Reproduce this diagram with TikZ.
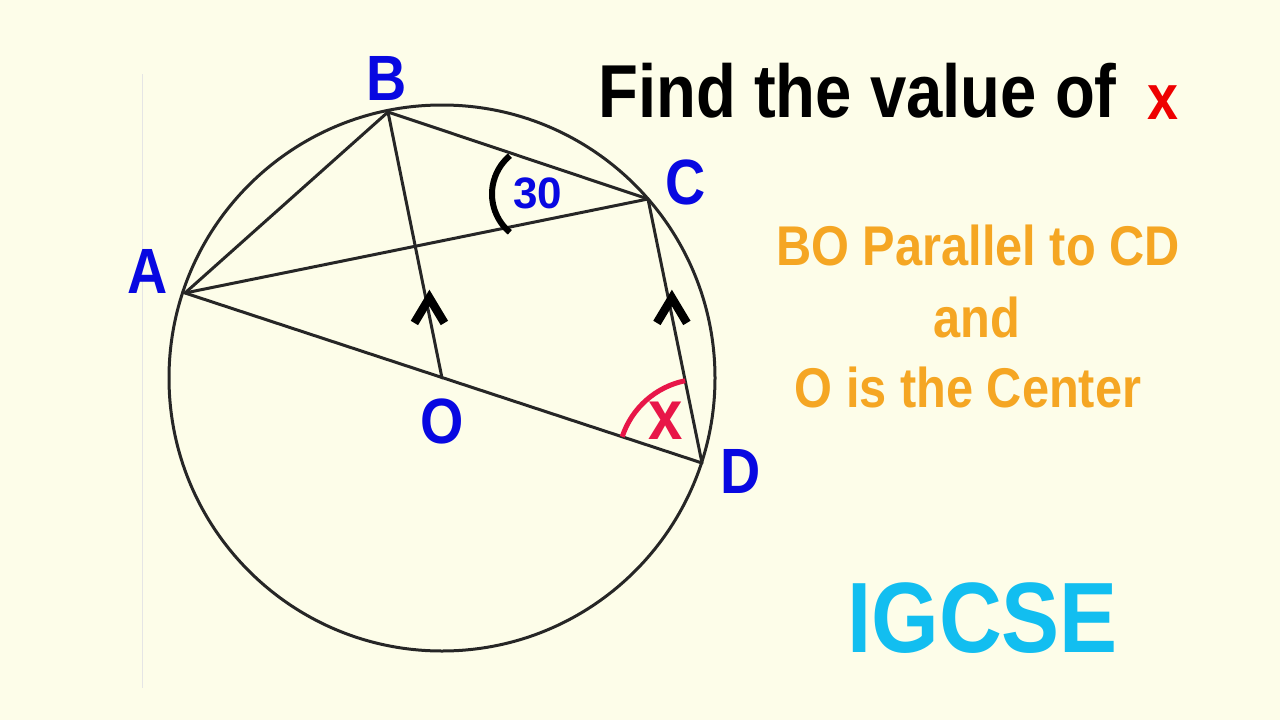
\documentclass[tikz,border=0pt]{standalone}
\usepackage{fontspec}
\setmainfont{Liberation Sans}
\newfontfamily\narrowfont[FakeStretch=0.87]{Liberation Sans}
\usetikzlibrary{calc}

\definecolor{paper}{RGB}{253,253,233}
\definecolor{ptblue}{RGB}{8,8,225}
\definecolor{hintorange}{RGB}{245,166,35}
\definecolor{examcyan}{RGB}{18,190,240}
\definecolor{angred}{RGB}{232,22,72}
\definecolor{titlered}{RGB}{238,0,0}
\definecolor{wire}{RGB}{38,38,38}

\begin{document}
\begin{tikzpicture}[x=1pt,y=-1pt]
            \tikzstyle{chord}=[line width=3pt, wire, line cap=round]
            \tikzstyle{point}=[text=ptblue, inner sep=0pt, font=\narrowfont\bfseries\fontsize{64}{70}\selectfont]
            \tikzstyle{parmark}=[line width=8.5pt, black, miter limit=10]
            \tikzstyle{hint}=[text=hintorange, inner sep=0pt, anchor=base, font=\narrowfont\bfseries\fontsize{56}{60}\selectfont]

            % page
            \fill[paper] (0,0) rectangle (1280,720);
            \useasboundingbox (0,0) rectangle (1280,720);
            \draw[line width=1pt, black!10] (142,74) -- (142,688);

            % points on the circle
            \coordinate (O) at (442,378);
            \coordinate (A) at (185,293);
            \coordinate (B) at (388,112);
            \coordinate (C) at (648,199);
            \coordinate (D) at (702,463);

            % circle and chords
            \draw[chord] (O) circle (273);
            \draw[chord] (A) -- (B);
            \draw[chord] (B) -- (C);
            \draw[chord] (A) -- (C);
            \draw[chord] (C) -- (D);
            \draw[chord] (A) -- (D);
            \draw[chord] (B) -- (O);

            % parallel marks
            \draw[parmark] ($(B)!0.748!(O)$) ++(-14,12) -- ++(15,-25) -- ++(15,25);
            \draw[parmark] ($(C)!0.424!(D)$) ++(-14,12) -- ++(15,-25) -- ++(15,25);

            % angles
            \draw[line width=6pt, black] (542,194) ++(130:50) arc[start angle=130, end angle=230, radius=50];
            \node[text=ptblue, inner sep=0pt, font=\bfseries\fontsize{44}{50}\selectfont] (thirty) at (538,193) {30};
            \draw[line width=5pt, angred] (D) ++(-161.8:84) arc[start angle=-161.8, end angle=-101.6, radius=84];
            \node[text=angred, inner sep=0pt, font=\narrowfont\bfseries\fontsize{71}{75}\selectfont] (xang) at (666,421) {x};

            % point labels
            \node[point] (Alab) at (148,271) {A};
            \node[point] (Blab) at (387,78) {B};
            \node[point] (Clab) at (686,182) {C};
            \node[point] (Dlab) at (741,471) {D};
            \node[point] (Olab) at (442,421) {O};

            % text on the right
            \node[anchor=base west, inner sep=0pt, font=\narrowfont\bfseries\fontsize{75}{80}\selectfont] (title) at (598,117) {Find the value of};
            \node[text=titlered, inner sep=0pt, font=\narrowfont\bfseries\fontsize{64}{70}\selectfont] (titlex) at (1163,103) {x};
            \node[hint] (hint1) at (978,265) {BO Parallel to CD};
            \node[hint] (hint2) at (977,337) {and};
            \node[hint] (hint3) at (968,407) {O is the Center};
            \node[anchor=base west, inner sep=0pt, text=examcyan, font=\narrowfont\bfseries\fontsize{100}{100}\selectfont] (exam) at (847,652) {IGCSE};
        \end{tikzpicture}
\end{document}
